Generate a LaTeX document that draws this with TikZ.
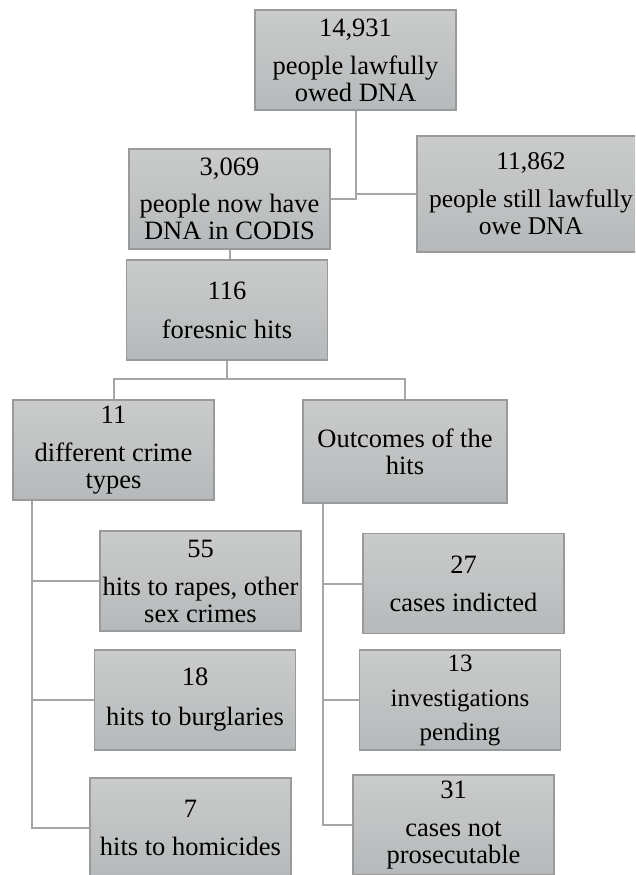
\documentclass[tikz,border=0pt]{standalone}
\usepackage{fontspec}
\setmainfont{Liberation Serif}
\usetikzlibrary{positioning,calc}
\definecolor{boxtop}{HTML}{CACBCB}
\definecolor{boxbot}{HTML}{B6B9BB}
\definecolor{boxedge}{HTML}{9A9A9A}
\definecolor{linkgray}{HTML}{A6A6A6}

\begin{document}
\begin{tikzpicture}[x=1pt,y=-1pt,%
                    countbox/.style={draw=boxedge,line width=1.5pt,top color=boxtop,bottom color=boxbot,
                        minimum width=201pt,minimum height=100pt,inner sep=0,align=center,
                        font=\fontsize{26.5}{27}\selectfont},
                    link/.style={draw=linkgray,line width=2pt},
                    elbow/.style={to path={|- (\tikztotarget)}},
                    fork/.style={to path={-- ++(0,18) -| (\tikztotarget)}},
        ]
        \clip (0,0) rectangle (635,875);
        \useasboundingbox (0,0) rectangle (635,875);
        \node[countbox] (owed) at (355.5,60) {14,931\\[11pt]people lawfully\\owed DNA};
        \node[countbox] (have) at (229.5,199) {3,069\\[10pt]people now have\\DNA in CODIS};
        \node[countbox,minimum width=228pt,minimum height=116pt,font=\fontsize{25.5}{27}\selectfont] (still) at (531,194) {11,862\\[11pt]people still lawfully\\owe DNA};
        \node[countbox] (hits) at (227,310) {116\\[12pt]foresnic hits};
        \node[countbox] (types) at (113.5,450) {11\\[11pt]different crime\\types};
        \node[countbox,minimum width=204pt,minimum height=103pt] (outc) at (405,451.5) {Outcomes of the\\hits};
        \node[countbox] (rapes) at (200.5,581) {55\\[11pt]hits to rapes, other\\sex crimes};
        \node[countbox] (burgl) at (195,700) {18\\[13pt]hits to burglaries};
        \node[countbox] (homic) at (190.5,828) {7\\[11pt]hits to homicides};
        \node[countbox] (indict) at (463.5,583.5) {27\\[11pt]cases indicted};
        \node[countbox,font=\fontsize{25}{27}\selectfont] (pend) at (460,700) {13\\[8pt]investigations\\[7pt]pending};
        \node[countbox] (notpro) at (453.5,825) {31\\[11pt]cases not\\prosecutable};
%
        \coordinate (ltrunk) at ($(types.south west)+(20,0)$);
        \coordinate (rtrunk) at ($(outc.south west)+(21,0)$);
        \path[link]
            (owed.south) edge[elbow] (have.east)
            (owed.south) edge[elbow] (still.west)
            (have.south) edge (have.south |- hits.north)
            (hits.south) edge[fork] (types.north)
            (hits.south) edge[fork] (outc.north)
            (ltrunk) edge[elbow] (rapes.west)
            (ltrunk) edge[elbow] (burgl.west)
            (ltrunk) edge[elbow] (homic.west)
            (rtrunk) edge[elbow] (indict.west)
            (rtrunk) edge[elbow] (pend.west)
            (rtrunk) edge[elbow] (notpro.west)
            ;
    \end{tikzpicture}
\end{document}
